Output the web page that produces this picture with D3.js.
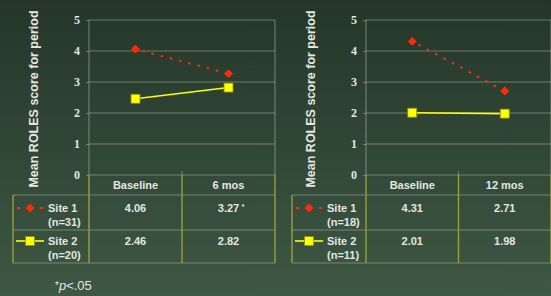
<!DOCTYPE html>
<html>
<head>
<meta charset="utf-8">
<style>
  html, body { margin: 0; padding: 0; }
  body { width: 551px; height: 296px; overflow: hidden; }
  svg { display: block; }
</style>
</head>
<body>
<svg id="chart" width="551" height="296"></svg>
<script src="https://d3js.org/d3.v7.min.js"></script>
<script>
// data
var yTicks = [0, 1, 2, 3, 4, 5];
var periodsA = ["Baseline", "6 mos"];
var site1A = [4.06, 3.27];
var site2A = [2.46, 2.82];
var labels1A = ["4.06", "3.27"];
var labels2A = ["2.46", "2.82"];
var nA = ["(n=31)", "(n=20)"];

var periodsB = ["Baseline", "12 mos"];
var site1B = [4.31, 2.71];
var site2B = [2.01, 1.98];
var labels1B = ["4.31", "2.71"];
var labels2B = ["2.01", "1.98"];
var nB = ["(n=18)", "(n=11)"];

var siteNames = ["Site 1", "Site 2"];

var svg = d3.select("#chart");

// background gradient
var defs = svg.append("defs");
var grad = defs.append("linearGradient").attr("id", "bg")
    .attr("x1", 0).attr("y1", 0).attr("x2", 0).attr("y2", 1);
grad.append("stop").attr("offset", "0%").attr("stop-color", "#253629");
grad.append("stop").attr("offset", "100%").attr("stop-color", "#3d5843");
svg.append("rect").attr("width", 551).attr("height", 296).attr("fill", "url(#bg)");

var textCol = "#e4e6e0";
var gridCol = "rgba(190,200,185,0.45)";
var vCol = "#9c9e3c";
var red = "#ff2a0a";
var yellow = "#ffff00";

// diamond as a rotated square, like the original marker
var diamond = d3.symbol().type(d3.symbolSquare).size(40);

function panel(ox, titleX, plotLeft, plotRight, periods, s1, s2, l1, l2, ns, star) {
  var g = svg.append("g");
  var y = d3.scaleLinear().domain([0, 5]).range([175, 20]);
  var x = d3.scaleBand().domain(periods).range([plotLeft, plotRight]);
  var rows = [195, 230, 263];
  var cx = function(i) { return x(periods[i]) + x.bandwidth() / 2; };

  // axis title
  g.append("text")
    .attr("transform", "translate(" + titleX + ",99) rotate(-90)")
    .attr("text-anchor", "middle")
    .attr("fill", textCol)
    .style("font", "bold 12.5px 'Liberation Sans', Arial, sans-serif")
    .text("Mean ROLES score for period");

  // y axis
  var axis = g.append("g")
    .attr("transform", "translate(" + plotLeft + ",0)")
    .call(d3.axisLeft(y).tickValues(yTicks).tickSize(3).tickPadding(6).tickFormat(d3.format("d")));
  axis.select(".domain").remove();
  axis.selectAll("line").attr("stroke", gridCol);
  axis.selectAll("text")
    .attr("fill", textCol)
    .style("font", "bold 12px 'Liberation Serif', 'Times New Roman', serif");

  // horizontal grid
  g.selectAll(".grid").data(yTicks).enter().append("line")
    .attr("x1", plotLeft).attr("x2", plotRight)
    .attr("y1", function(d) { return y(d); })
    .attr("y2", function(d) { return y(d); })
    .attr("stroke", gridCol).attr("stroke-width", 1.2);

  // table horizontal lines
  g.selectAll(".row").data(rows).enter().append("line")
    .attr("x1", ox + 13).attr("x2", plotRight)
    .attr("y1", function(d) { return d; }).attr("y2", function(d) { return d; })
    .attr("stroke", gridCol).attr("stroke-width", 1.2);

  // plot frame verticals
  [plotLeft, plotRight].forEach(function(vx) {
    g.append("line").attr("x1", vx).attr("x2", vx).attr("y1", 20).attr("y2", 175)
      .attr("stroke", gridCol).attr("stroke-width", 1.2);
  });
  g.append("line").attr("x1", plotLeft + x.bandwidth()).attr("x2", plotLeft + x.bandwidth())
    .attr("y1", 171).attr("y2", 175).attr("stroke", gridCol);

  // table verticals (olive)
  var vx = [ox + 13, plotLeft, plotLeft + x.bandwidth(), plotRight];
  g.selectAll(".vl").data(vx).enter().append("line")
    .attr("x1", function(d) { return d; }).attr("x2", function(d) { return d; })
    .attr("y1", function(d, i) { return i === 0 ? 195 : 175; })
    .attr("y2", 263)
    .attr("stroke", vCol).attr("stroke-width", 1.4);

  // series lines
  var line = d3.line()
    .x(function(d, i) { return cx(i); })
    .y(function(d) { return y(d); });

  g.append("path").datum(s2).attr("d", line)
    .attr("fill", "none").attr("stroke", yellow).attr("stroke-width", 1.6);
  g.append("path").datum(s1).attr("d", line)
    .attr("fill", "none").attr("stroke", red).attr("stroke-width", 2)
    .attr("stroke-dasharray", "2.5,7").attr("stroke-dashoffset", -7);

  g.selectAll(".m1").data(s1).enter().append("path")
    .attr("d", diamond)
    .attr("transform", function(d, i) { return "translate(" + cx(i) + "," + y(d) + ") rotate(45)"; })
    .attr("fill", red);
  g.selectAll(".m2").data(s2).enter().append("rect")
    .attr("x", function(d, i) { return cx(i) - 4.5; })
    .attr("y", function(d) { return y(d) - 4.5; })
    .attr("width", 9).attr("height", 9)
    .attr("fill", yellow).attr("stroke", "#8c8a20").attr("stroke-width", 0.8);

  // table text
  var tfont = "bold 11px 'Liberation Sans', Arial, sans-serif";
  g.selectAll(".hdr").data(periods).enter().append("text")
    .attr("x", function(d) { return x(d) + x.bandwidth() / 2; })
    .attr("y", 189).attr("text-anchor", "middle")
    .attr("fill", textCol).style("font", tfont)
    .text(function(d) { return d; });
  g.selectAll(".v1").data(l1).enter().append("text")
    .attr("x", function(d, i) { return cx(i); })
    .attr("y", 212).attr("text-anchor", "middle")
    .attr("fill", textCol).style("font", tfont)
    .text(function(d) { return d; });
  g.selectAll(".v2").data(l2).enter().append("text")
    .attr("x", function(d, i) { return cx(i); })
    .attr("y", 245).attr("text-anchor", "middle")
    .attr("fill", textCol).style("font", tfont)
    .text(function(d) { return d; });
  if (star) {
    g.append("text")
      .attr("x", cx(1) + 13).attr("y", 209)
      .attr("fill", textCol).style("font", "bold 8px 'Liberation Sans', Arial, sans-serif")
      .text("*");
  }

  // legend inside table
  var lx = ox + 30;
  [0, 1].forEach(function(k) {
    var ty = k === 0 ? 212 : 245;
    g.append("text").attr("x", ox + 48).attr("y", ty)
      .attr("fill", textCol).style("font", tfont).text(siteNames[k]);
    g.append("text").attr("x", ox + 48).attr("y", ty + 14)
      .attr("fill", textCol).style("font", tfont).text(ns[k]);
  });
  g.append("line").attr("x1", lx - 13).attr("x2", lx + 13).attr("y1", 208).attr("y2", 208)
    .attr("stroke", red).attr("stroke-width", 2).attr("stroke-dasharray", "3,20");
  g.append("path").attr("d", diamond).attr("transform", "translate(" + lx + ",208) rotate(45)").attr("fill", red);
  g.append("line").attr("x1", lx - 14).attr("x2", lx + 14).attr("y1", 241).attr("y2", 241)
    .attr("stroke", yellow).attr("stroke-width", 1.6);
  g.append("rect").attr("x", lx - 4.5).attr("y", 236.5).attr("width", 9).attr("height", 9)
    .attr("fill", yellow).attr("stroke", "#8c8a20").attr("stroke-width", 0.8);
}

panel(0, 38, 89, 275, periodsA, site1A, site2A, labels1A, labels2A, nA, true);
panel(279, 315, 366, 551, periodsB, site1B, site2B, labels1B, labels2B, nB, false);

// footnote
var foot = svg.append("text").attr("x", 55).attr("y", 290)
  .attr("fill", textCol).style("font", "13px 'Liberation Sans', Arial, sans-serif");
foot.append("tspan").style("font-size", "10px").attr("dy", -1).text("*");
foot.append("tspan").style("font-style", "italic").attr("dy", 1).text("p");
foot.append("tspan").text("<.05");
</script>
</body>
</html>
